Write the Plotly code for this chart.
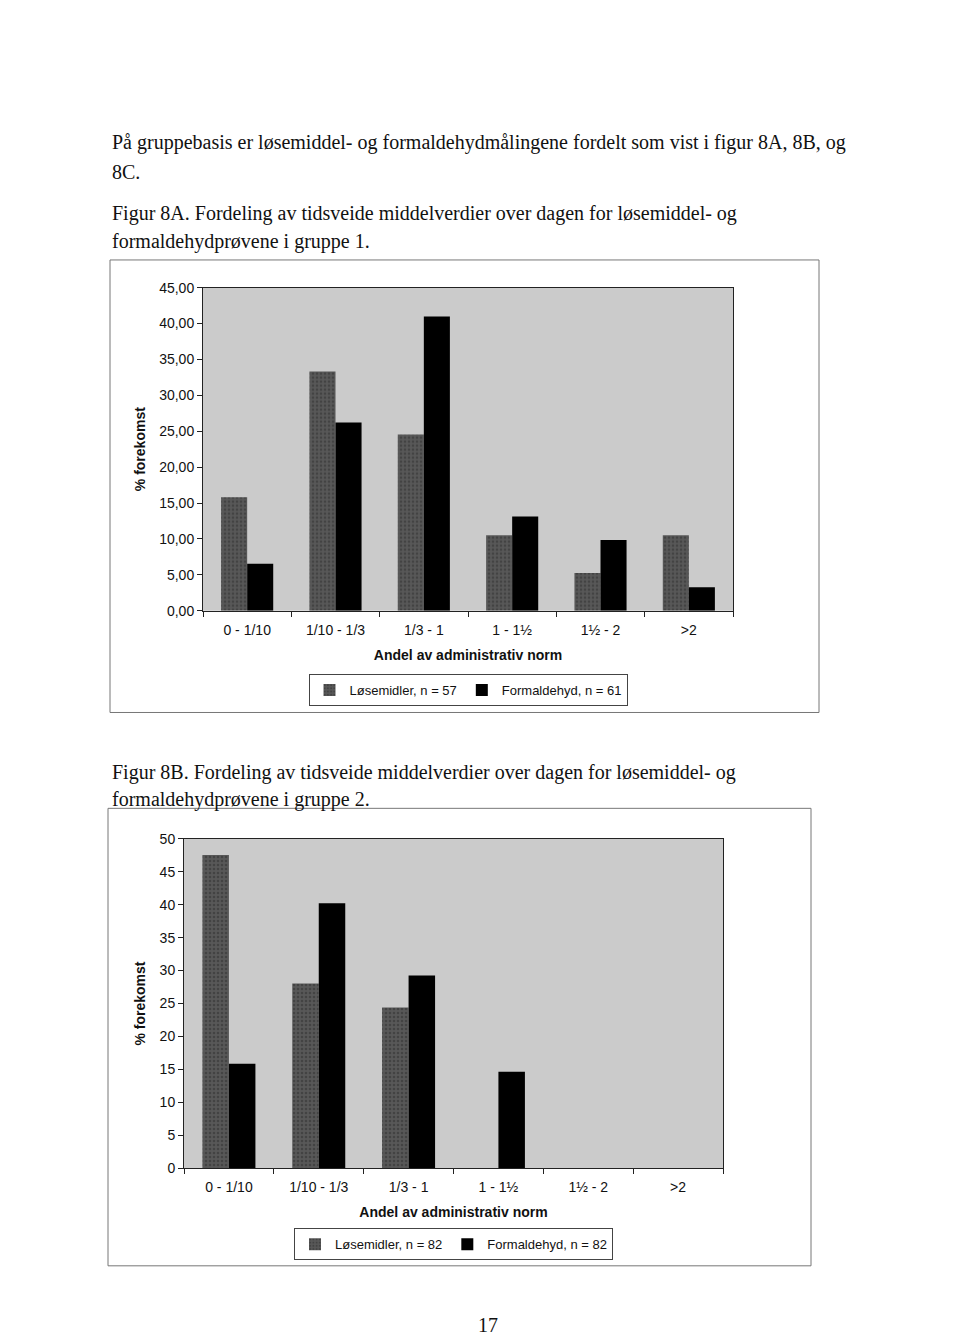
import plotly.graph_objects as go

# ---------------- data ----------------
categories = ["0 - 1/10", "1/10 - 1/3", "1/3 - 1", "1 - 1½", "1½ - 2", ">2"]

# Figur 8A (gruppe 1)
losemidler_g1 = [15.79, 33.33, 24.56, 10.53, 5.26, 10.53]
formaldehyd_g1 = [6.56, 26.23, 40.98, 13.11, 9.84, 3.28]
name_los_g1 = "Løsemidler, n = 57"
name_form_g1 = "Formaldehyd, n = 61"
y1_tickvals = [0, 5, 10, 15, 20, 25, 30, 35, 40, 45]
y1_ticktext = ["0,00", "5,00", "10,00", "15,00", "20,00", "25,00", "30,00", "35,00", "40,00", "45,00"]

# Figur 8B (gruppe 2)
losemidler_g2 = [47.56, 28.05, 24.39, 0, 0, 0]
formaldehyd_g2 = [15.85, 40.24, 29.27, 14.63, 0, 0]
name_los_g2 = "Løsemidler, n = 82"
name_form_g2 = "Formaldehyd, n = 82"
y2_tickvals = [0, 5, 10, 15, 20, 25, 30, 35, 40, 45, 50]
y2_ticktext = ["0", "5", "10", "15", "20", "25", "30", "35", "40", "45", "50"]

x_title = "Andel av administrativ norm"
y_title = "% forekomst"

page_lines = [
    ("På gruppebasis er løsemiddel- og formaldehydmålingene fordelt som vist i figur 8A, 8B, og", 136),
    ("8C.", 166),
    ("Figur 8A. Fordeling av tidsveide middelverdier over dagen for løsemiddel- og", 208),
    ("formaldehydprøvene i gruppe 1.", 236),
    ("Figur 8B. Fordeling av tidsveide middelverdier over dagen for løsemiddel- og", 774),
    ("formaldehydprøvene i gruppe 2.", 801),
]
page_number = "17"

# ---------------- layout helpers ----------------
W, H = 960, 1342
def px(x):
    return x / W
def py(y):
    return 1 - y / H

LOS_COLOR = "#585858"
FORM_COLOR = "#000000"
BG = "#cbcbcb"
SANS = "Liberation Sans, Arial, sans-serif"
SERIF = "Liberation Serif, Times New Roman, serif"

los_marker = dict(color=LOS_COLOR, line=dict(width=0),
                  pattern=dict(shape=".", fgcolor="#2e2e2e", bgcolor=LOS_COLOR,
                               size=4, solidity=0.35))
form_marker = dict(color=FORM_COLOR, line=dict(width=0))

fig = go.Figure()

fig.add_trace(go.Bar(x=categories, y=losemidler_g1, name=name_los_g1, marker=los_marker,
                     xaxis="x", yaxis="y", legend="legend"))
fig.add_trace(go.Bar(x=categories, y=formaldehyd_g1, name=name_form_g1, marker=form_marker,
                     xaxis="x", yaxis="y", legend="legend"))
fig.add_trace(go.Bar(x=categories, y=losemidler_g2, name=name_los_g2, marker=los_marker,
                     xaxis="x2", yaxis="y2", legend="legend2"))
fig.add_trace(go.Bar(x=categories, y=formaldehyd_g2, name=name_form_g2, marker=form_marker,
                     xaxis="x2", yaxis="y2", legend="legend2"))

axis_font = dict(family=SANS, size=14, color="#111")
title_font = dict(family=SANS, size=14, color="#111", weight="bold")

common_x = dict(type="category", showline=True, linecolor="#222", linewidth=1, mirror=True,
                ticks="outside", ticklen=5, tickcolor="#222", tickson="boundaries",
                ticklabelstandoff=6,
                showgrid=False, zeroline=False, tickfont=axis_font,
                title=dict(text=x_title, font=title_font, standoff=13))
common_y = dict(showline=True, linecolor="#222", linewidth=1, mirror=True,
                ticks="outside", ticklen=5, tickcolor="#222",
                showgrid=False, zeroline=False, tickfont=axis_font,
                title=dict(text=y_title, font=title_font, standoff=10))

fig.update_layout(
    width=W, height=H, autosize=False,
    margin=dict(l=0, r=0, t=0, b=0),
    paper_bgcolor="white", plot_bgcolor=BG,
    barmode="group", bargap=0.41, bargroupgap=0,
    xaxis=dict(common_x, domain=[px(203), px(733)], anchor="y"),
    yaxis=dict(common_y, domain=[py(610), py(283)], anchor="x",
               range=[0, 45], tickvals=y1_tickvals, ticktext=y1_ticktext),
    xaxis2=dict(common_x, domain=[px(184), px(723)], anchor="y2"),
    yaxis2=dict(common_y, domain=[py(1174), py(841)], anchor="x2",
                range=[0, 50], tickvals=y2_tickvals, ticktext=y2_ticktext),
    legend=dict(orientation="h", x=px(468), xanchor="center", y=py(674), yanchor="top",
                bordercolor="#444", borderwidth=1, bgcolor="white",
                font=dict(family=SANS, size=13, color="#111"), itemwidth=30,
                tracegroupgap=0),
    legend2=dict(orientation="h", x=px(453.5), xanchor="center", y=py(1235), yanchor="top",
                 bordercolor="#444", borderwidth=1, bgcolor="white",
                 font=dict(family=SANS, size=13, color="#111"), itemwidth=30,
                 tracegroupgap=0),
    showlegend=True,
)

# outer frames of the two chart objects
fig.add_shape(type="rect", xref="paper", yref="paper",
              x0=px(110), x1=px(819), y0=py(713), y1=py(255),
              line=dict(color="#777", width=1), layer="below")
fig.add_shape(type="rect", xref="paper", yref="paper",
              x0=px(108), x1=px(811), y0=py(1273), y1=py(810),
              line=dict(color="#777", width=1), layer="below")

# page text
for txt, yy in page_lines:
    fig.add_annotation(text=txt, xref="paper", yref="paper", x=px(110), y=py(yy),
                       xanchor="left", yanchor="middle", showarrow=False,
                       font=dict(family=SERIF, size=20, color="#111"))
fig.add_annotation(text=page_number, xref="paper", yref="paper", x=px(488), y=py(1333),
                   xanchor="center", yanchor="middle", showarrow=False,
                   font=dict(family=SERIF, size=20, color="#111"))

fig.write_html("out.html")
